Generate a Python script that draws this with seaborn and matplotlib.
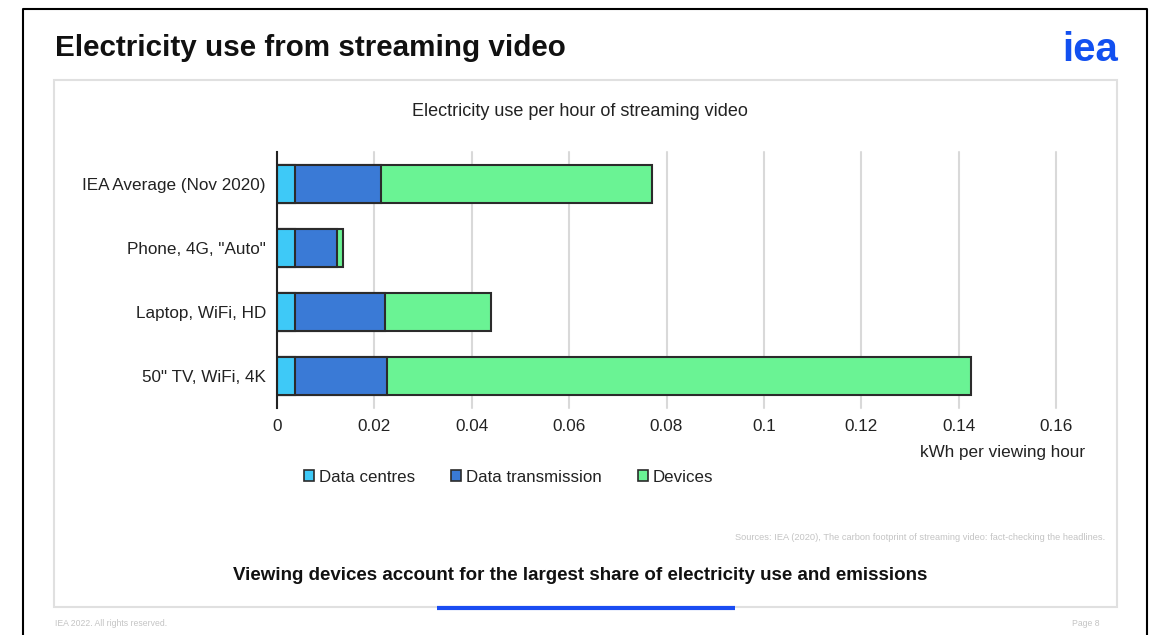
import numpy as np
import pandas as pd
import matplotlib
matplotlib.use("Agg")
import matplotlib.pyplot as plt
from matplotlib.patches import Patch, Rectangle
from matplotlib.lines import Line2D
from matplotlib.ticker import FuncFormatter
import seaborn as sns

# ---- data ----
categories = ["IEA Average (Nov 2020)", "Phone, 4G, \"Auto\"", "Laptop, WiFi, HD", "50\" TV, WiFi, 4K"]
data_centres = [0.0037, 0.0037, 0.0037, 0.0037]
data_transmission = [0.0177, 0.0086, 0.0185, 0.0189]
devices = [0.0556, 0.0013, 0.0217, 0.1199]
series_names = ["Data centres", "Data transmission", "Devices"]
x_ticks = [0, 0.02, 0.04, 0.06, 0.08, 0.1, 0.12, 0.14, 0.16]

colors = ["#3EC9F7", "#3A7AD6", "#6AF394"]
edge = "#2b2b2b"

sns.set_theme(style="white")
plt.rcParams["font.family"] = ["Liberation Sans", "DejaVu Sans"]

W, H = 1149, 635
fig = plt.figure(figsize=(W / 100, H / 100), dpi=100)
fig.patch.set_facecolor("white")

def fx(px):
    return px / W

def fy(py):
    return 1 - py / H

ax = fig.add_axes([fx(277), fy(408), fx(1056) - fx(277), fy(152) - fy(408)])

df = pd.DataFrame({
    "cat": categories,
    "c1": np.array(data_centres),
    "c2": np.array(data_centres) + np.array(data_transmission),
    "c3": np.array(data_centres) + np.array(data_transmission) + np.array(devices),
})

for col, c in zip(["c3", "c2", "c1"], colors[::-1]):
    sns.barplot(data=df, x=col, y="cat", orient="h", color=c, edgecolor=edge,
                linewidth=1.5, width=0.58, saturation=1, ax=ax, order=categories)

ax.set_xlim(0, 0.16)
ax.set_ylim(3.5, -0.5)
ax.set_xticks(x_ticks)
ax.xaxis.set_major_formatter(FuncFormatter(lambda v, p: "0" if v == 0 else f"{v:g}"))
ax.set_xlabel("")
ax.set_ylabel("")
ax.grid(axis="x", color="#d9d9d9", linewidth=1.5)
for gl in ax.get_xgridlines():
    gl.set_clip_on(False)
ax.set_axisbelow(True)
for s in ["top", "right", "bottom"]:
    ax.spines[s].set_visible(False)
ax.spines["left"].set_color("#222222")
ax.spines["left"].set_linewidth(1.5)
ax.tick_params(axis="both", length=0, labelsize=12.3, colors="#222222")
ax.tick_params(axis="y", pad=8)
ax.tick_params(axis="x", pad=8)

# ---- texts ----
fig.text(fx(55), fy(48), "Electricity use from streaming video", fontsize=21.3,
         fontweight="bold", color="#111111", va="center", ha="left")
fig.text(fx(1118), fy(50), "iea", fontsize=29, fontweight="heavy", color="#1250F0",
         va="center", ha="right")
fig.text(fx(580), fy(111), "Electricity use per hour of streaming video", fontsize=13,
         color="#222222", ha="center", va="center")
fig.text(fx(1085), fy(452), "kWh per viewing hour", fontsize=12.3, color="#222222",
         ha="right", va="center")
fig.text(fx(1105), fy(538), "Sources: IEA (2020), The carbon footprint of streaming video: fact-checking the headlines.",
         fontsize=6.7, color="#c4c4c4", ha="right", va="center")
fig.text(fx(580), fy(575), "Viewing devices account for the largest share of electricity use and emissions",
         fontsize=13.5, fontweight="bold", color="#111111", ha="center", va="center")
fig.text(fx(55), fy(623), "IEA 2022. All rights reserved.", fontsize=6.2, color="#c4c4c4",
         ha="left", va="center")
fig.text(fx(1100), fy(623), "Page 8", fontsize=6.2, color="#c4c4c4", ha="right", va="center")

# ---- legend ----
handles = [Patch(facecolor=c, edgecolor=edge, linewidth=1.2) for c in colors]
fig.legend(handles, series_names, loc="center left", bbox_to_anchor=(fx(304), fy(477)),
           ncol=3, frameon=False, fontsize=12.2, handlelength=0.6, handleheight=0.6,
           handletextpad=0.3, columnspacing=2.1, borderpad=0, borderaxespad=0,
           labelcolor="#222222")

# ---- frames ----
fig.add_artist(Rectangle((fx(54), fy(607)), fx(1117) - fx(54), fy(80) - fy(607),
                         transform=fig.transFigure, fill=False, edgecolor="#e0e0e0",
                         linewidth=1.5, zorder=0))
fig.add_artist(Line2D([fx(23), fx(23), fx(1147), fx(1147)], [0, fy(9), fy(9), 0],
                      transform=fig.transFigure, color="black", linewidth=1.5))
fig.add_artist(Line2D([fx(437), fx(735)], [fy(608), fy(608)], transform=fig.transFigure,
                      color="#1a4cf2", linewidth=3, solid_capstyle="butt"))

fig.savefig("out.png", dpi=100)
